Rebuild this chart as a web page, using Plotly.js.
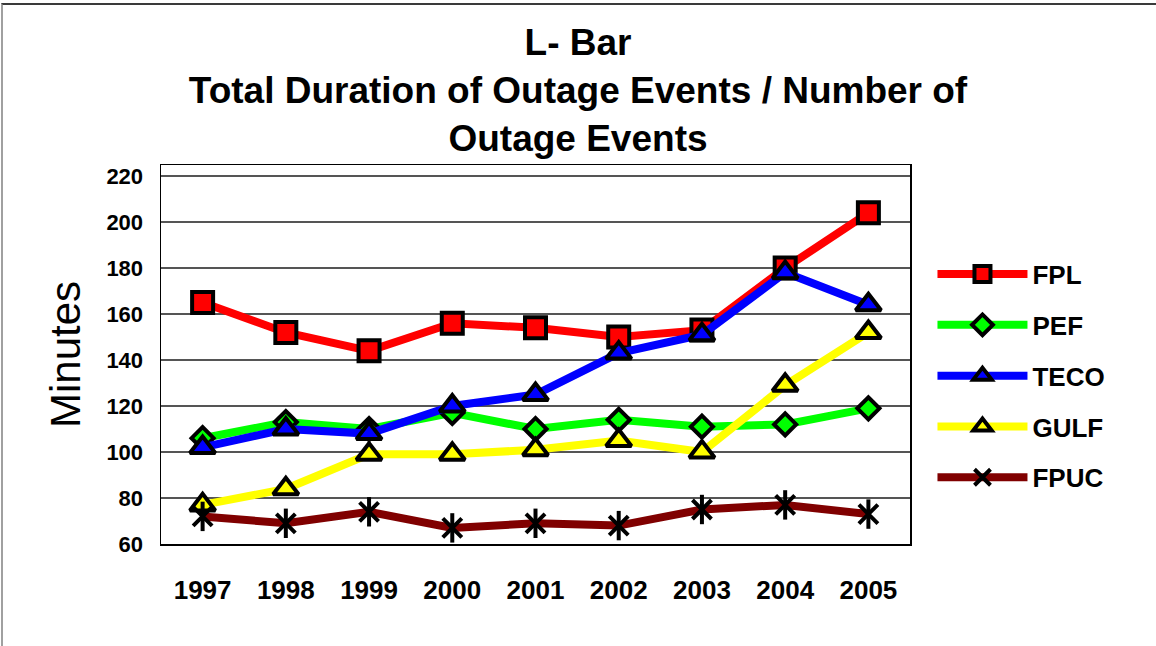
<!DOCTYPE html>
<html>
<head>
<meta charset="utf-8">
<script src="https://cdn.plot.ly/plotly-3.0.1.min.js"></script>
<style>
  html, body { margin: 0; padding: 0; background: #fff; }
  #chart { position: absolute; left: 0; top: 0; width: 1156px; height: 646px; }
  #frame { position: absolute; left: 1px; top: 3px; width: 1160px; height: 650px;
           border-top: 2px solid #3a3a3a; border-left: 2px solid #a0a0a0; pointer-events: none; }
</style>
</head>
<body>
<div id="chart"></div>
<div id="frame"></div>
<script>
const years = ['1997', '1998', '1999', '2000', '2001', '2002', '2003', '2004', '2005'];
const FPL  = [165, 152, 144, 156, 154, 150, 153, 180, 204];
const PEF  = [106, 113, 110, 117, 110, 114, 111, 112, 119];
const TECO = [102, 110, 108, 120, 125, 143, 151, 178, 164];
const GULF = [77, 84, 99, 99, 101, 105, 100, 129, 152];
const FPUC = [72, 69, 74, 67, 69, 68, 75, 77, 73];
const yTicks = [60, 80, 100, 120, 140, 160, 180, 200, 220];

const FONT = 'Liberation Sans, Arial, sans-serif';

function series(name, y, color, symbol, size) {
  return {
    type: 'scatter', mode: 'lines+markers', name: name, x: years, y: y,
    legendgroup: name,
    line: { color: color, width: 8 },
    marker: { symbol: symbol, size: size, color: color, line: { color: '#000', width: 4 } },
    cliponaxis: false
  };
}

const traces = [
  series('FPL', FPL, '#FF0000', 'square', 21),
  series('PEF', PEF, '#00FF00', 'diamond', 17),
  series('TECO', TECO, '#0000FF', 'triangle-up', 22),
  series('GULF', GULF, '#FFFF00', 'triangle-up', 22),
  {
    type: 'scatter', mode: 'lines+markers', name: 'FPUC', x: years, y: FPUC,
    legendgroup: 'FPUC',
    line: { color: '#800000', width: 8 },
    marker: { symbol: 'x-thin-open', size: 19, color: '#000', line: { color: '#000', width: 4 } },
    cliponaxis: false
  },
  {
    type: 'scatter', mode: 'markers', name: 'FPUC', x: years, y: FPUC,
    legendgroup: 'FPUC', showlegend: false,
    marker: { symbol: 'line-ns-open', size: 21, color: '#000', line: { color: '#000', width: 4 } },
    cliponaxis: false
  }
];

const layout = {
  width: 1156, height: 646,
  paper_bgcolor: '#fff', plot_bgcolor: '#fff',
  margin: { l: 161, r: 246, t: 165, b: 102 },
  font: { family: FONT, color: '#000' },
  title: {
    text: '<b>L- Bar<br>Total Duration of Outage Events / Number of<br>Outage Events</b>',
    font: { family: FONT, size: 37, color: '#000' },
    x: 0.5, xref: 'container', xanchor: 'center',
    y: 1 - 55 / 646, yref: 'container', yanchor: 'top'
  },
  xaxis: {
    type: 'category',
    range: [-0.5, 8.5],
    showgrid: false, zeroline: false,
    showline: true, mirror: true, linecolor: '#000', linewidth: 1.5,
    ticks: 'outside', ticklen: 22, tickcolor: 'rgba(0,0,0,0)',
    tickfont: { family: FONT, size: 26, color: '#000', weight: 'bold' }
  },
  yaxis: {
    range: [60, 224.8],
    tickvals: yTicks, ticktext: yTicks.map(String),
    showgrid: true, gridcolor: '#555', gridwidth: 1.3,
    zeroline: false,
    showline: true, mirror: true, linecolor: '#000', linewidth: 1.5,
    ticks: 'outside', ticklen: 12, tickcolor: 'rgba(0,0,0,0)',
    tickfont: { family: FONT, size: 22, color: '#000', weight: 'bold' },
    title: { text: 'Minutes', font: { family: FONT, size: 42, color: '#000' }, standoff: 12 }
  },
  legend: {
    x: 1.03, xanchor: 'left', y: 0.774, yanchor: 'top',
    font: { family: FONT, size: 26, color: '#000', weight: 'bold' },
    itemwidth: 90, tracegroupgap: 14,
    bgcolor: 'rgba(0,0,0,0)', borderwidth: 0
  },
  showlegend: true
};

Plotly.newPlot('chart', traces, layout, { displayModeBar: false, staticPlot: true });
</script>
</body>
</html>
